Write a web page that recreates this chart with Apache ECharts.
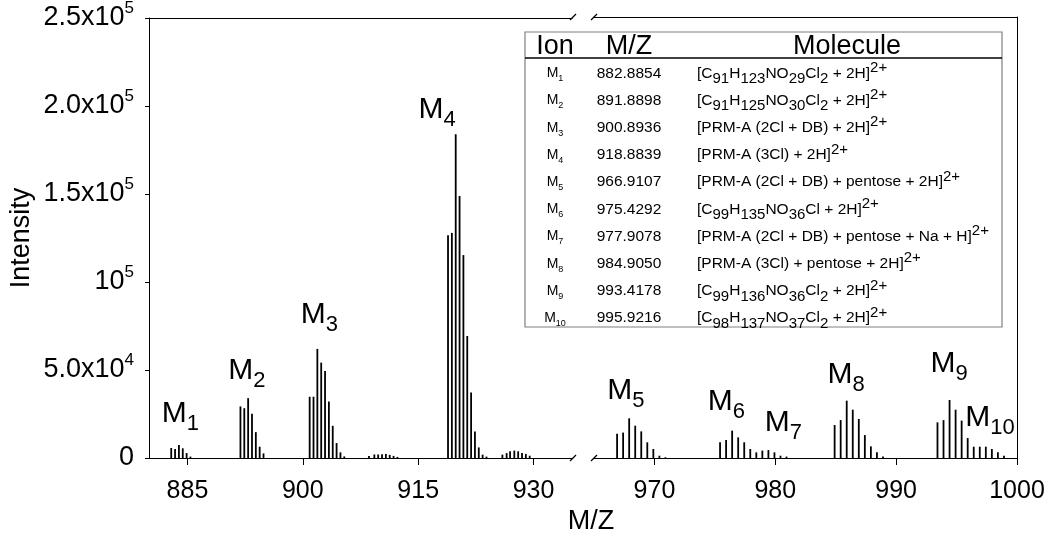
<!DOCTYPE html>
<html><head><meta charset="utf-8">
<script src="https://cdn.jsdelivr.net/npm/echarts@6/dist/echarts.min.js"></script>
<style>html,body{margin:0;padding:0;background:#fff}#c{width:1050px;height:543px}</style>
</head><body><div id="c"></div>
<script>
// ---------------- DATA ----------------
// isotope clusters (m/z, intensity)
const m1Mz  = [882.89, 883.39, 883.89, 884.39, 884.89, 885.39];
const m1Int = [5700, 5100, 7400, 5500, 2800, 800];
const m2Mz  = [891.89, 892.39, 892.89, 893.39, 893.89, 894.39, 894.89];
const m2Int = [29300, 28300, 34000, 25100, 14700, 6400, 2600];
const m3Mz  = [900.89, 901.39, 901.89, 902.39, 902.89, 903.39, 903.89, 904.39, 904.89, 905.39];
const m3Int = [34800, 34800, 62000, 54200, 49500, 32100, 18300, 8500, 3200, 900];
const minorAMz  = [908.6, 909.3, 909.8, 910.3, 910.8, 911.3, 911.8, 912.3];
const minorAInt = [1200, 2000, 2000, 2200, 2300, 1800, 1200, 600];
const m4Mz  = [918.88, 919.38, 919.88, 920.38, 920.88, 921.38, 921.88, 922.38, 922.88, 923.38, 923.88];
const m4Int = [126600, 127900, 183900, 148900, 115300, 69300, 37200, 15100, 6000, 1900, 800];
const minorBMz  = [925.95, 926.5, 926.95, 927.5, 928.0, 928.5, 929.0, 929.5];
const minorBInt = [1900, 2800, 3800, 4200, 3800, 2800, 2300, 1300];
const m5Mz  = [966.91, 967.41, 967.91, 968.41, 968.91, 969.41, 969.91, 970.41, 970.91];
const m5Int = [13800, 14400, 22500, 18300, 15100, 8900, 5100, 1300, 400];
const m6m7Mz  = [975.43, 975.93, 976.43, 976.93, 977.43, 977.93, 978.43, 978.93, 979.43, 979.93, 980.43, 980.93];
const m6m7Int = [8900, 10200, 15500, 11700, 8900, 5100, 3200, 4200, 4500, 3200, 1300, 800];
const m8Mz  = [984.91, 985.41, 985.91, 986.41, 986.91, 987.41, 987.91, 988.41, 988.91];
const m8Int = [18700, 21500, 32500, 27400, 22100, 13000, 6600, 3200, 900];
const m9m10Mz  = [993.42, 993.92, 994.42, 994.92, 995.42, 995.92, 996.42, 996.92, 997.42, 997.92, 998.42, 998.92];
const m9m10Int = [20200, 21500, 32900, 27400, 21200, 11300, 6400, 6400, 6400, 5100, 3200, 1300];

// axis ticks
const xTicksLeft  = [885, 900, 915, 930];
const xTicksRight = [970, 980, 990, 1000];
const yTickValues = [0, 50000, 100000, 150000, 200000, 250000];
const yTickLabels = ['0', '5.0x10^4', '10^5', '1.5x10^5', '2.0x10^5', '2.5x10^5'];

// ion table
const ionNumbers = ['1','2','3','4','5','6','7','8','9','10'];
const ionMz = ['882.8854','891.8898','900.8936','918.8839','966.9107','975.4292','977.9078','984.9050','993.4178','995.9216'];
const ionMolecules = [
  '[C_{91}H_{123}NO_{29}Cl_{2} + 2H]^{2+}',
  '[C_{91}H_{125}NO_{30}Cl_{2} + 2H]^{2+}',
  '[PRM-A (2Cl + DB) + 2H]^{2+}',
  '[PRM-A (3Cl) + 2H]^{2+}',
  '[PRM-A (2Cl + DB) + pentose + 2H]^{2+}',
  '[C_{99}H_{135}NO_{36}Cl + 2H]^{2+}',
  '[PRM-A (2Cl + DB) + pentose + Na + H]^{2+}',
  '[PRM-A (3Cl) + pentose + 2H]^{2+}',
  '[C_{99}H_{136}NO_{36}Cl_{2} + 2H]^{2+}',
  '[C_{98}H_{137}NO_{37}Cl_{2} + 2H]^{2+}'
];
// ion label anchors on the spectrum [m/z, intensity]
const ionLabelMz  = [884.09, 892.73, 902.14, 917.47, 967.64, 975.95, 980.66, 985.87, 994.38, 997.77];
const ionLabelInt = [24900, 49600, 81400, 197600, 38300, 31800, 20100, 47300, 53300, 22700];

// ---------------- BUILD ----------------
const FONT = 'Liberation Sans, Arial, sans-serif';
function zip(a, b) { return a.map((v, i) => [v, b[i]]); }
const leftData = [].concat(zip(m1Mz, m1Int), zip(m2Mz, m2Int), zip(m3Mz, m3Int),
  zip(minorAMz, minorAInt), zip(m4Mz, m4Int), zip(minorBMz, minorBInt));
const rightData = [].concat(zip(m5Mz, m5Int), zip(m6m7Mz, m6m7Int), zip(m8Mz, m8Int), zip(m9m10Mz, m9m10Int));

function supText(s) {
  const p = s.split('^');
  return p.length > 1 ? '{n|' + p[0] + '}{p|' + p[1] + '}' : '{n|' + s + '}';
}
function formulaRich(s) {
  return s.replace(/([^_^{}]+)|_\{([^}]*)\}|\^\{([^}]*)\}/g, (m, n, sub, sup) =>
    n !== undefined ? '{n|' + n + '}' : sub !== undefined ? '{b|' + sub + '}' : '{p|' + sup + '}');
}

const G0 = { left: 149, top: 17, width: 423, height: 441 };
const G1 = { left: 594, top: 17, width: 423, height: 441 };

const ionLabelRich = {
  m: { fontSize: 30, lineHeight: 42, fontFamily: FONT, color: '#000' },
  s: { fontSize: 22, lineHeight: 22, verticalAlign: 'bottom', fontFamily: FONT, color: '#000' }
};
function ionMarks(filterFn) {
  const out = [];
  ionNumbers.forEach((n, i) => {
    if (filterFn(ionLabelMz[i])) out.push({ coord: [ionLabelMz[i], ionLabelInt[i]], name: n });
  });
  return out;
}
const markPointCfg = (fn) => ({
  symbol: 'rect', symbolSize: 1, silent: true,
  itemStyle: { color: 'rgba(0,0,0,0)' },
  label: { show: true, position: 'inside', formatter: p => '{m|M}{s|' + p.name + '}', rich: ionLabelRich },
  data: ionMarks(fn)
});

const axisBlack = { show: true, onZero: false, lineStyle: { color: '#000', width: 1 } };
const xLabel = (ticks) => ({ customValues: ticks, fontSize: 25, margin: 21, color: '#000',
  fontFamily: FONT, formatter: v => String(v) });

const option = {
  animation: false,
  backgroundColor: '#fff',
  textStyle: { fontFamily: FONT },
  grid: [
    { left: G0.left, top: G0.top, width: G0.width, height: G0.height },
    { left: G1.left, top: G1.top, width: G1.width, height: G1.height }
  ],
  xAxis: [
    { type: 'value', gridIndex: 0, min: 880, max: 935, axisLine: axisBlack,
      axisTick: { show: true, customValues: xTicksLeft, length: 7, lineStyle: { color: '#000' } },
      axisLabel: xLabel(xTicksLeft), splitLine: { show: false } },
    { type: 'value', gridIndex: 1, min: 965, max: 1000, axisLine: axisBlack,
      axisTick: { show: true, customValues: xTicksRight, length: 7, lineStyle: { color: '#000' } },
      axisLabel: xLabel(xTicksRight), splitLine: { show: false } },
    { type: 'value', gridIndex: 0, min: 880, max: 935, position: 'top', axisLine: axisBlack,
      axisTick: { show: false }, axisLabel: { show: false }, splitLine: { show: false } },
    { type: 'value', gridIndex: 1, min: 965, max: 1000, position: 'top', axisLine: axisBlack,
      axisTick: { show: false }, axisLabel: { show: false }, splitLine: { show: false } }
  ],
  yAxis: [
    { type: 'value', gridIndex: 0, min: 0, max: 250000, interval: 50000,
      axisLine: axisBlack,
      axisTick: { show: true, length: 4, lineStyle: { color: '#000' } },
      axisLabel: { margin: 15, color: '#000',
        formatter: v => supText(yTickLabels[yTickValues.indexOf(v)]),
        rich: { n: { fontSize: 27, lineHeight: 36, fontFamily: FONT, color: '#000' },
                p: { fontSize: 17, lineHeight: 17, verticalAlign: 'top', fontFamily: FONT, color: '#000' } } },
      splitLine: { show: false },
      name: 'Intensity', nameLocation: 'middle', nameGap: 114, nameMoveOverlap: false,
      nameTextStyle: { fontSize: 27, color: '#000', fontFamily: FONT } },
    { type: 'value', gridIndex: 1, min: 0, max: 250000, interval: 50000, position: 'right',
      axisLine: axisBlack, axisTick: { show: false }, axisLabel: { show: false }, splitLine: { show: false } }
  ],
  series: [
    { type: 'bar', xAxisIndex: 0, yAxisIndex: 0, data: leftData, barWidth: 1.8,
      itemStyle: { color: '#000' }, markPoint: markPointCfg(v => v < 950) },
    { type: 'bar', xAxisIndex: 1, yAxisIndex: 1, data: rightData, barWidth: 1.8,
      itemStyle: { color: '#000' }, markPoint: markPointCfg(v => v > 950) }
  ],
  graphic: []
};

// axis break marks
const gEls = [];
const breakXs = [G0.left + G0.width + 1, G1.left];
const breakYs = [G0.top, G0.top + G0.height];
breakXs.forEach(x => breakYs.forEach(y => {
  gEls.push({ type: 'line', shape: { x1: x - 3, y1: y + 3, x2: x + 3, y2: y - 3 },
    style: { stroke: '#000', lineWidth: 1.2 }, z: 100 });
}));
// name of x axis
gEls.push({ type: 'text', x: 591, y: 522, z: 100,
  style: { text: 'M/Z', fontSize: 27, fontFamily: FONT, fill: '#000', align: 'center', verticalAlign: 'middle' } });

// table
const T = { x: 525, y: 32, w: 477, h: 295, headerLine: 58, row0: 73.3, rowStep: 27.2,
  colIon: 555, colMz: 629, colMol: 697, headMol: 847 };
gEls.push({ type: 'rect', shape: { x: T.x, y: T.y, width: T.w, height: T.h }, z: 90,
  style: { fill: '#fff', stroke: '#808080', lineWidth: 1.2 } });
gEls.push({ type: 'line', shape: { x1: T.x, y1: T.headerLine, x2: T.x + T.w, y2: T.headerLine }, z: 91,
  style: { stroke: '#000', lineWidth: 1.5 } });
[['Ion', T.colIon], ['M/Z', T.colMz], ['Molecule', T.headMol]].forEach(([t, x]) => {
  gEls.push({ type: 'text', x: x, y: 47, z: 92,
    style: { text: t, fontSize: 27, fontFamily: FONT, fill: '#000', align: 'center', verticalAlign: 'middle' } });
});
const formulaStyles = {
  n: { fontSize: 15.5, lineHeight: 26, fontFamily: FONT, color: '#000' },
  b: { fontSize: 15, lineHeight: 15, verticalAlign: 'bottom', fontFamily: FONT, color: '#000' },
  p: { fontSize: 15, lineHeight: 15, verticalAlign: 'top', fontFamily: FONT, color: '#000' }
};
ionNumbers.forEach((n, i) => {
  const y = T.row0 + i * T.rowStep;
  gEls.push({ type: 'text', x: T.colIon, y: y, z: 92,
    style: { text: '{i|M}{j|' + n + '}', align: 'center', verticalAlign: 'middle',
      rich: { i: { fontSize: 14, lineHeight: 20, fontFamily: FONT, color: '#000' },
              j: { fontSize: 9, lineHeight: 9, verticalAlign: 'bottom', fontFamily: FONT, color: '#000' } } } });
  gEls.push({ type: 'text', x: T.colMz, y: y, z: 92,
    style: { text: ionMz[i], fontSize: 15.5, fontFamily: FONT, fill: '#000', align: 'center', verticalAlign: 'middle' } });
  gEls.push({ type: 'text', x: T.colMol, y: y, z: 92,
    style: { text: formulaRich(ionMolecules[i]), align: 'left', verticalAlign: 'middle', rich: formulaStyles } });
});
option.graphic = gEls;

const chart = echarts.init(document.getElementById('c'), null, { renderer: 'canvas' });
chart.setOption(option);
</script>
</body></html>
